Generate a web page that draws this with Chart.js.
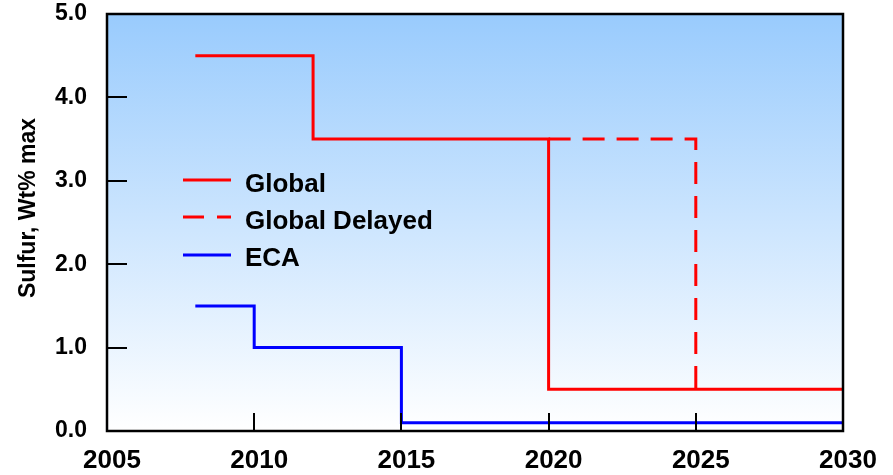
<!DOCTYPE html>
<html>
<head>
<meta charset="utf-8">
<script src="https://cdn.jsdelivr.net/npm/chart.js@4/dist/chart.umd.min.js"></script>
<style>
  html, body { margin: 0; padding: 0; background: #ffffff; }
  #wrap { width: 893px; height: 475px; position: relative; }
</style>
</head>
<body>
<div id="wrap"><canvas id="c" width="893" height="475"></canvas></div>
<script>
// ---- data ----
const globalYears   = [2008, 2012, 2020, 2030];
const globalLimits  = [4.5, 3.5, 0.5, 0.5];
const delayedYears  = [2020, 2025];
const delayedLimits = [3.5, 0.5];
const ecaYears      = [2008, 2010, 2015, 2030];
const ecaLimits     = [1.5, 1.0, 0.1, 0.1];
const seriesNames   = ['Global', 'Global Delayed', 'ECA'];
const xTickValues   = [2005, 2010, 2015, 2020, 2025, 2030];
const yTickValues   = [0, 1, 2, 3, 4, 5];
const xInnerTicks   = [2010, 2015, 2020, 2025];
const yInnerTicks   = [1, 2, 3, 4];
const yAxisTitle    = 'Sulfur, Wt% max';

const FONT = "'Liberation Sans', Arial, Helvetica, sans-serif";
const toPts = (xs, ys) => xs.map((x, i) => ({ x: x, y: ys[i] }));

const bgPlugin = {
  id: 'bg',
  beforeDraw(chart) {
    const { ctx, chartArea: a } = chart;
    const g = ctx.createLinearGradient(0, a.top, 0, a.bottom);
    g.addColorStop(0, '#99CBFD');
    g.addColorStop(1, '#FFFFFF');
    ctx.save();
    ctx.fillStyle = g;
    ctx.fillRect(a.left, a.top, a.right - a.left, a.bottom - a.top);
    ctx.restore();
  }
};

const frameAndTicks = {
  id: 'frame',
  afterDatasetsDraw(chart) {
    const { ctx, chartArea: a, scales } = chart;
    ctx.save();
    ctx.strokeStyle = '#000';
    ctx.lineWidth = 2;
    ctx.beginPath();
    xInnerTicks.forEach(v => {
      const px = Math.round(scales.x.getPixelForValue(v));
      ctx.moveTo(px, a.bottom);
      ctx.lineTo(px, a.bottom - 18);
    });
    yInnerTicks.forEach(v => {
      const py = Math.round(scales.y.getPixelForValue(v));
      ctx.moveTo(a.left, py);
      ctx.lineTo(a.left + 20, py);
    });
    ctx.stroke();
    ctx.lineWidth = 2.5;
    ctx.strokeRect(a.left, a.top, a.right - a.left, a.bottom - a.top);
    // y axis title
    ctx.fillStyle = '#000';
    ctx.font = 'bold 23px ' + FONT;
    ctx.textAlign = 'center';
    ctx.textBaseline = 'middle';
    ctx.translate(29, 208);
    ctx.rotate(-Math.PI / 2);
    ctx.fillText(yAxisTitle, 0, 0);
    ctx.restore();
  }
};

const innerLegend = {
  id: 'innerLegend',
  afterDraw(chart) {
    const { ctx } = chart;
    const rows = [
      { lineY: 180, textY: 192 },
      { lineY: 217, textY: 229 },
      { lineY: 255, textY: 266 }
    ];
    ctx.save();
    chart.data.datasets.forEach((ds, i) => {
      const r = rows[i];
      ctx.strokeStyle = ds.borderColor;
      ctx.lineWidth = 3;
      ctx.setLineDash(ds.borderDash && ds.borderDash.length ? [21, 13] : []);
      ctx.beginPath();
      ctx.moveTo(183, r.lineY);
      ctx.lineTo(231, r.lineY);
      ctx.stroke();
      ctx.setLineDash([]);
      ctx.fillStyle = '#000';
      ctx.font = 'bold 26px ' + FONT;
      ctx.textBaseline = 'alphabetic';
      ctx.textAlign = 'left';
      ctx.fillText(ds.label, 245, r.textY);
    });
    ctx.restore();
  }
};

new Chart(document.getElementById('c'), {
  type: 'line',
  data: {
    datasets: [
      {
        label: seriesNames[0],
        data: toPts(globalYears, globalLimits),
        borderColor: '#FF0000',
        borderWidth: 3,
        stepped: 'before',
        pointRadius: 0,
        fill: false
      },
      {
        label: seriesNames[1],
        data: toPts(delayedYears, delayedLimits),
        borderColor: '#FF0000',
        borderWidth: 3,
        borderDash: [22, 12],
        stepped: 'before',
        pointRadius: 0,
        fill: false
      },
      {
        label: seriesNames[2],
        data: toPts(ecaYears, ecaLimits),
        borderColor: '#0000FF',
        borderWidth: 3,
        stepped: 'before',
        pointRadius: 0,
        fill: false
      }
    ]
  },
  options: {
    responsive: false,
    animation: false,
    devicePixelRatio: 1,
    layout: { padding: { top: 14, right: 50, left: 0, bottom: 0 } },
    plugins: {
      legend: { display: false },
      tooltip: { enabled: false }
    },
    scales: {
      x: {
        type: 'linear',
        min: 2005,
        max: 2030,
        afterBuildTicks: s => { s.ticks = xTickValues.map(v => ({ value: v })); },
        afterFit: s => { s.height = 44; s.paddingLeft = 0; s.paddingRight = 0; },
        grid: { display: false },
        border: { display: false },
        ticks: {
          color: '#000',
          padding: 6,
          labelOffset: 5,
          maxRotation: 0,
          autoSkip: false,
          font: { family: FONT, size: 26, weight: 'bold' },
          callback: v => String(v)
        }
      },
      y: {
        min: 0,
        max: 5,
        afterBuildTicks: s => { s.ticks = yTickValues.map(v => ({ value: v })); },
        afterFit: s => { s.width = 107; s.paddingTop = 0; s.paddingBottom = 0; },
        grid: { display: false },
        border: { display: false },
        title: { display: false },
        ticks: {
          color: '#000',
          padding: 12,
          font: { family: FONT, size: 23, weight: 'bold' },
          callback: v => Number(v).toFixed(1)
        }
      }
    }
  },
  plugins: [bgPlugin, frameAndTicks, innerLegend]
});
</script>
</body>
</html>
